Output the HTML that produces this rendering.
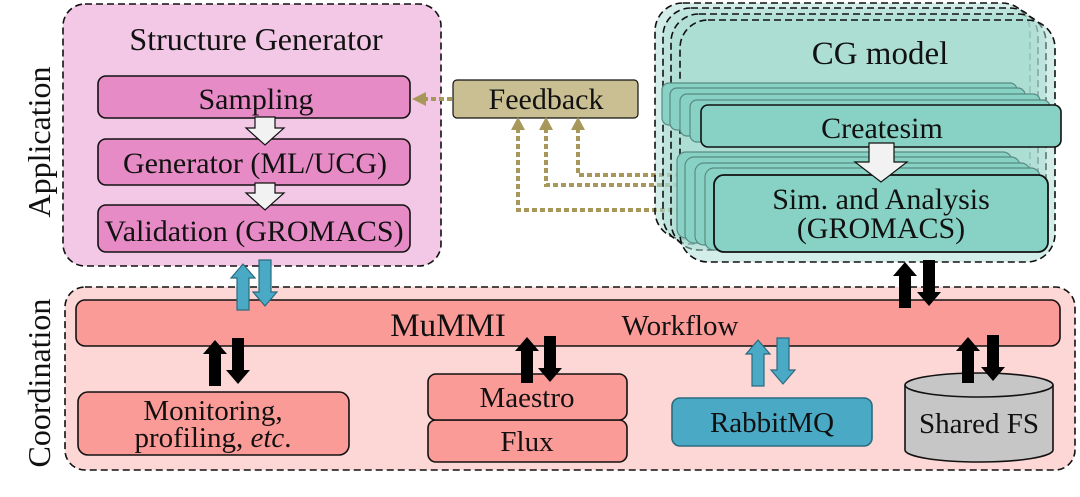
<html><head><style>body{margin:0;background:#fff}svg{display:block}text{font-family:"Liberation Serif",serif;fill:#111}</style></head><body>
<svg width="1080" height="497" viewBox="0 0 1080 497" xmlns="http://www.w3.org/2000/svg">
<defs>
<g id="up"><polygon points="-6,0 -6,-32 -12,-32 0,-46 12,-32 6,-32 6,0"/></g>
</defs>
<text transform="translate(50,142) rotate(-90)" font-size="32" text-anchor="middle">Application</text>
<text transform="translate(50,383) rotate(-90)" font-size="32" text-anchor="middle">Coordination</text>
<!-- Structure generator -->
<rect x="63" y="4" width="378" height="262" rx="22" fill="#f3c8e6" stroke="#111" stroke-width="1.6" stroke-dasharray="7,4"/>
<text x="256" y="50" font-size="32" text-anchor="middle">Structure Generator</text>
<rect x="98" y="76" width="312" height="42" rx="8" fill="#e78bc6" stroke="#111" stroke-width="1.6"/>
<text x="256" y="109" font-size="30" text-anchor="middle">Sampling</text>
<rect x="98" y="139" width="312" height="46" rx="8" fill="#e78bc6" stroke="#111" stroke-width="1.6"/>
<text x="255" y="173" font-size="30" text-anchor="middle">Generator (ML/UCG)</text>
<rect x="98" y="205" width="312" height="47" rx="8" fill="#e78bc6" stroke="#111" stroke-width="1.6"/>
<text x="254" y="241" font-size="30" text-anchor="middle">Validation (GROMACS)</text>
<polygon points="255,117 275,117 275,128 284,128 265,145 246,128 255,128" fill="#f2f2f2" stroke="#111" stroke-width="1.2"/>
<polygon points="255,183 275,183 275,193 284,193 265,210 246,193 255,193" fill="#f2f2f2" stroke="#111" stroke-width="1.2"/>
<!-- Feedback -->
<rect x="453" y="80" width="185" height="38" rx="4" fill="#c9bf92" stroke="#111" stroke-width="1.2"/>
<text x="546" y="109" font-size="30" text-anchor="middle">Feedback</text>
<g stroke="#a8975a" stroke-width="4" stroke-dasharray="5,3" fill="none">
<line x1="452" y1="99" x2="424" y2="99"/>
<polyline points="518,128 518,210 690,210"/>
<polyline points="546,128 546,185 690,185"/>
<polyline points="578,128 578,175 690,175"/>
</g>
<g fill="#a8975a">
<polygon points="412,99 426,92 426,106"/>
<polygon points="518,117 511,130 525,130"/>
<polygon points="546,117 539,130 553,130"/>
<polygon points="578,117 571,130 585,130"/>
</g>
<!-- CG model stacks -->
<g stroke="#111" stroke-width="1.6" stroke-dasharray="7,4" fill="#a7dcd2" fill-opacity="0.5">
<rect x="655" y="3" width="375" height="236" rx="28"/>
<rect x="663" y="8" width="375" height="236" rx="28"/>
<rect x="671" y="14" width="375" height="236" rx="28"/>
<rect x="680" y="20" width="375" height="242" rx="28"/>
</g>
<text x="880" y="64" font-size="33" text-anchor="middle">CG model</text>
<g fill="#87d2c4" stroke="#5a8a82" stroke-width="1.2">
<rect x="662" y="83" width="355" height="42" rx="7"/>
<rect x="670" y="88" width="355" height="42" rx="7"/>
<rect x="680" y="94" width="360" height="42" rx="7"/>
<rect x="690" y="100" width="360" height="42" rx="7"/>
</g>
<rect x="701" y="105" width="360" height="42" rx="7" fill="#87d2c4" stroke="#111" stroke-width="1.6"/>
<text x="882" y="138" font-size="30" text-anchor="middle">Createsim</text>
<g fill="#87d2c4" stroke="#5a8a82" stroke-width="1.2">
<rect x="677" y="152" width="335" height="86" rx="9"/>
<rect x="685" y="157" width="335" height="86" rx="9"/>
<rect x="695" y="163" width="335" height="82" rx="9"/>
<rect x="705" y="168" width="335" height="82" rx="9"/>
</g>
<rect x="714" y="175" width="334" height="77" rx="10" fill="#87d2c4" stroke="#111" stroke-width="1.8"/>
<text x="881" y="209" font-size="30" text-anchor="middle">Sim. and Analysis</text>
<text x="881" y="238" font-size="30" text-anchor="middle">(GROMACS)</text>
<polygon points="869,143 894,143 894,162 907,162 881,182 855,162 869,162" fill="#f2f2f2" stroke="#111" stroke-width="1.2"/>
<!-- Coordination -->
<rect x="65" y="287" width="1010" height="183" rx="20" fill="#fdd7d6" stroke="#111" stroke-width="1.6" stroke-dasharray="7,4"/>
<rect x="76" y="300" width="984" height="46" rx="9" fill="#fb9b98" stroke="#111" stroke-width="1.6"/>
<text x="448" y="336" font-size="33" text-anchor="middle">MuMMI</text>
<text x="680" y="335" font-size="29" text-anchor="middle">Workflow</text>
<rect x="78" y="392" width="271" height="63" rx="10" fill="#fb9b98" stroke="#111" stroke-width="1.6"/>
<text x="213" y="420" font-size="29" text-anchor="middle">Monitoring,</text>
<text x="213" y="447" font-size="29" text-anchor="middle">profiling, <tspan font-style="italic">etc</tspan>.</text>
<rect x="428" y="420" width="199" height="42" rx="8" fill="#fb9b98" stroke="#111" stroke-width="1.6"/>
<text x="527" y="451" font-size="29" text-anchor="middle">Flux</text>
<rect x="428" y="374" width="199" height="46" rx="8" fill="#fb9b98" stroke="#111" stroke-width="1.6"/>
<text x="527" y="407" font-size="29" text-anchor="middle">Maestro</text>
<rect x="672" y="398" width="200" height="48" rx="8" fill="#4aa9c4" stroke="#2a6b7e" stroke-width="1.6"/>
<text x="772" y="432" font-size="29" text-anchor="middle">RabbitMQ</text>
<path d="M905,385 L905,450 A74,12 0 0 0 1053,450 L1053,385" fill="#c6c6c6" stroke="#111" stroke-width="1.6"/>
<ellipse cx="979" cy="385" rx="74" ry="12" fill="#c6c6c6" stroke="#111" stroke-width="1.6"/>
<text x="979" y="433" font-size="29" text-anchor="middle">Shared FS</text>
<!-- arrows -->
<g fill="#4aa9c4" stroke="#2a6b7e" stroke-width="1.2">
<use href="#up" x="243" y="310"/>
<use href="#up" transform="translate(265,260) scale(1,-1)"/>
<use href="#up" x="758" y="386"/>
<use href="#up" transform="translate(783,338) scale(1,-1)"/>
</g>
<g fill="#000">
<use href="#up" x="215" y="386"/>
<use href="#up" transform="translate(238,338) scale(1,-1)"/>
<use href="#up" x="527" y="383"/>
<use href="#up" transform="translate(550,336) scale(1,-1)"/>
<use href="#up" x="905" y="308"/>
<use href="#up" transform="translate(929,260) scale(1,-1)"/>
<use href="#up" x="968" y="383"/>
<use href="#up" transform="translate(993,335) scale(1,-1)"/>
</g>
</svg>
</body></html>
